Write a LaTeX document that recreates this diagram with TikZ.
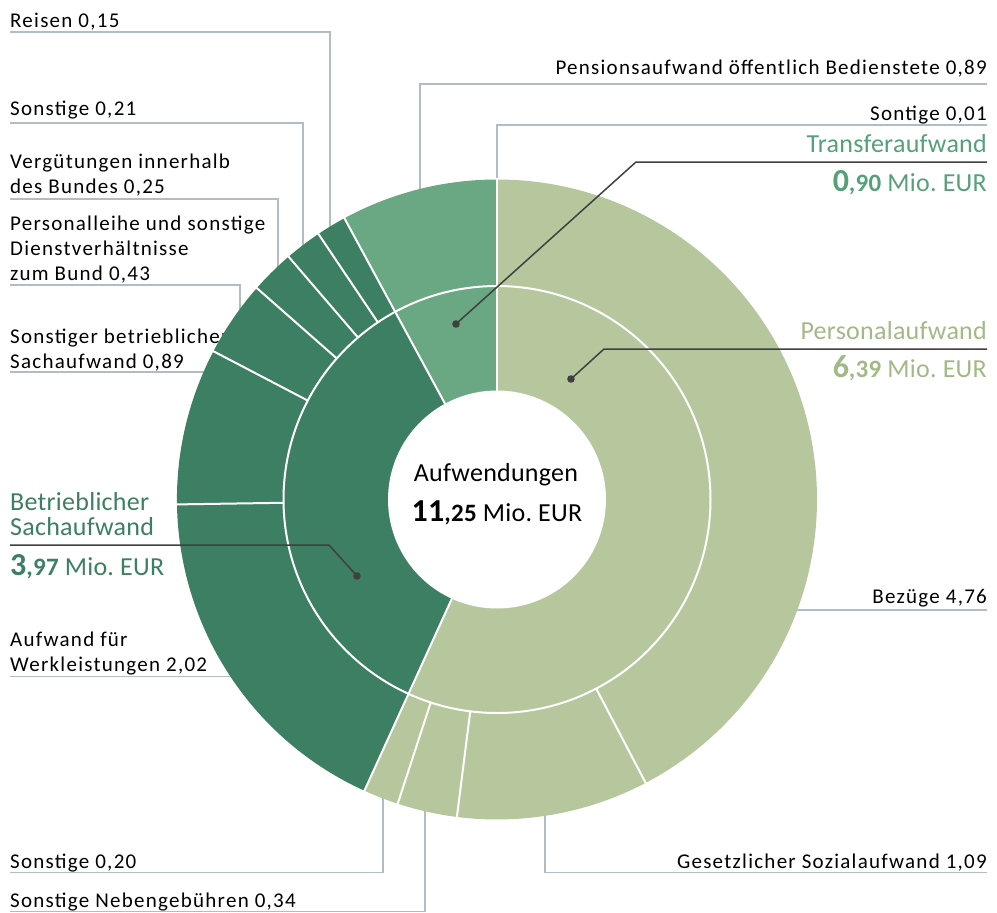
\documentclass[tikz,border=0pt]{standalone}
\usepackage{fontspec}
\setmainfont{Carlito}
\newfontfamily\labfont[LetterSpace=6]{Carlito}
\newfontfamily\catfont[LetterSpace=1]{Carlito}
\definecolor{lg}{HTML}{B6C79D}
\definecolor{dg}{HTML}{3D7F62}
\definecolor{mg}{HTML}{6AA883}
\definecolor{lgt}{HTML}{A2B986}
\definecolor{mgt}{HTML}{55A078}
\definecolor{leadc}{HTML}{B3BCC5}
\definecolor{callc}{HTML}{404040}
\newcommand\ringseg[5]{\fill[#5] (#1:#3) arc[start angle=#1,end angle=#2,radius=#3] -- (#2:#4) arc[start angle=#2,end angle=#1,radius=#4] -- cycle;}
\newcommand\amount[2]{{\fontsize{32}{32}\selectfont\bfseries #1}{\fontsize{25}{25}\selectfont\bfseries ,#2} Mio.\ EUR}
\begin{document}
\begin{tikzpicture}[x=1pt,y=1pt,
  lab/.style={font=\labfont\fontsize{21}{25}\selectfont, inner sep=0pt, align=left, anchor=base west},
  labr/.style={font=\labfont\fontsize{21}{25}\selectfont, inner sep=0pt, align=right, anchor=base east},
  cat/.style={font=\catfont\fontsize{26}{25}\selectfont, inner sep=0pt},
  leader/.style={draw=leadc, line width=1.3pt},
  callout/.style={draw=callc, line width=1.5pt},
  sep/.style={draw=white, line width=2pt},
]
\useasboundingbox (0,0) rectangle (997,-913);

% ---------- leader labels (left); multi-line nodes sit on their last baseline ----------
\node[lab] (reisen) at (10,-27) {Reisen 0,15};
\node[lab] (sonst21) at (10,-115) {Sonstige 0,21};
\node[lab] (verg) at (10,-193) {Vergütungen innerhalb\\des Bundes 0,25};
\node[lab] (pleihe) at (10,-280) {Personalleihe und sonstige\\Dienstverhältnisse\\zum Bund 0,43};
\node[lab] (sbetr) at (10,-368) {Sonstiger betrieblicher\\Sachaufwand 0,89};
\node[lab] (werk) at (10,-671.7) {Aufwand für\\Werkleistungen 2,02};
\node[lab] (sonst20) at (10,-868) {Sonstige 0,20};
\node[lab] (neben) at (10,-907.7) {Sonstige Nebengebühren 0,34};
% ---------- leader labels (right) ----------
\node[labr] (pension) at (987,-74) {Pensionsaufwand öffentlich Bedienstete 0,89};
\node[labr] (sont01) at (987,-120) {Sontige 0,01};
\node[labr] (bezuege) at (987,-603) {Bezüge 4,76};
\node[labr] (sozial) at (987,-868) {Gesetzlicher Sozialaufwand 1,09};

% leader end points (inside the ring, hidden by it)
\coordinate (eReisen) at (330,-240);
\coordinate (eSonst21) at (303,-260);
\coordinate (eVerg) at (278,-290);
\coordinate (ePleihe) at (240,-330);
\coordinate (eSbetr) at (230,-372);
\coordinate (eWerk) at (250,-676.7);
\coordinate (eSonst20) at (383,-780);
\coordinate (eNeben) at (425,-790);
\coordinate (ePension) at (420,-210);
\coordinate (eSont01) at (497,-200);
\coordinate (eBezuege) at (780,-610);
\coordinate (eSozial) at (545,-790);

\draw[leader] (10,-32) -| (eReisen);
\draw[leader] (10,-123) -| (eSonst21);
\draw[leader] (10,-199) -| (eVerg);
\draw[leader] (10,-285) -| (ePleihe);
\draw[leader] (10,-372) -- (eSbetr);
\draw[leader] (10,-676.7) -- (eWerk);
\draw[leader] (10,-872.7) -| (eSonst20);
\draw[leader] (10,-911.7) -| (eNeben);
\draw[leader] (987,-84) -| (ePension);
\draw[leader] (987,-125) -| (eSont01);
\draw[leader] (987,-610) -- (eBezuege);
\draw[leader] (987,-872.7) -| (eSozial);

% ---------- donut ----------
\begin{scope}[shift={(497,-499.5)}]
  \ringseg{90}{-114.48}{320}{0}{lg}
  \ringseg{-114.48}{-241.52}{320}{0}{dg}
  \ringseg{-241.52}{-270}{320}{0}{mg}
  % main boundaries
  \foreach \a in {90,-114.48,-241.52} \draw[sep] (\a:100) -- (\a:322);
  % outer sub boundaries
  \foreach \a in {-62.32,-97.2,-108.08,-179.12,-207.6,-221.36,-229.36,-236.08}
    \draw[sep] (\a:213.5) -- (\a:322);
  \draw[sep] (0,0) circle[radius=213.5];
  \fill[white] (0,0) circle[radius=109];
\end{scope}

% ---------- center ----------
\node[cat, anchor=base] (auf) at (496,-481) {Aufwendungen};
\node[cat, anchor=base] (aufv) at (497,-521) {\amount{11}{25}};

% ---------- category callouts ----------
\node[cat, anchor=base east, text=mgt] (transT) at (987,-152.7) {Transferaufwand};
\node[cat, anchor=base east, text=mgt] (transV) at (987,-191.7) {\amount{0}{90}};
\node[cat, anchor=base east, text=lgt] (persT) at (987,-339) {Personalaufwand};
\node[cat, anchor=base east, text=lgt] (persV) at (987,-377) {\amount{6}{39}};
\node[cat, anchor=base west, text=dg, align=left] (betrT) at (10,-535) {Betrieblicher\\Sachaufwand};
\node[cat, anchor=base west, text=dg] (betrV) at (10,-575.7) {\amount{3}{97}};

\coordinate (dTrans) at (456,-324);
\coordinate (kTrans) at (636,-162);
\coordinate (rTrans) at (987,-162);
\coordinate (dPers) at (571,-379);
\coordinate (kPers) at (604,-349);
\coordinate (rPers) at (987,-349);
\coordinate (dBetr) at (357,-576);
\coordinate (kBetr) at (329,-545);
\coordinate (lBetr) at (10,-545);

\draw[callout] (dTrans) -- (kTrans) -- (rTrans);
\draw[callout] (dPers) -- (kPers) -- (rPers);
\draw[callout] (dBetr) -- (kBetr) -- (lBetr);
\foreach \d in {dTrans,dPers,dBetr} \fill[callc] (\d) circle[radius=3.8];
\end{tikzpicture}
\end{document}
